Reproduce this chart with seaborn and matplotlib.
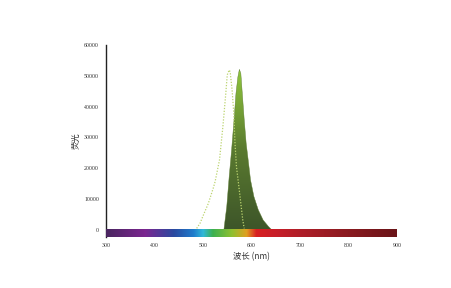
import numpy as np
import pandas as pd
import matplotlib
matplotlib.use("Agg")
import matplotlib.pyplot as plt
import seaborn as sns
from matplotlib.colors import LinearSegmentedColormap

# ---- data ----
ex_wl = [487, 494, 501, 511, 521, 525, 534, 541, 547, 550, 554, 556, 560, 563, 566, 569, 574, 578, 582, 585]
ex_val = [500, 2200, 4900, 8600, 13500, 15700, 22700, 33500, 44300, 50300, 51900, 51300, 45400, 38900, 28100, 20500, 14000, 8600, 3200, 500]

em_wl = [543, 549, 554, 559, 564, 568, 572, 575, 578, 581, 585, 589, 594, 598, 605, 614, 624, 635, 642]
em_val = [0, 7600, 17300, 26000, 35700, 44300, 49700, 52100, 50800, 44300, 35700, 28100, 21600, 16200, 10800, 6500, 3200, 1100, 0]

spec_pos = [300, 380, 440, 480, 500, 520, 560, 590, 610, 650, 700, 800, 900]
spec_col = ["#4a2560", "#7b2690", "#2a4aa0", "#1f7ccc", "#30b8d8", "#3cb050", "#90c030",
            "#e0a020", "#d82020", "#c81e28", "#b01e28", "#8a1a20", "#6a1418"]

x_ticks = [300, 400, 500, 600, 700, 800, 900]
y_ticks = [0, 10000, 20000, 30000, 40000, 50000, 60000]

sns.set_style("white")
plt.rcParams['font.family'] = ['Liberation Serif', 'Noto Sans CJK SC', 'DejaVu Sans']

fig = plt.figure(figsize=(4.52, 2.88), dpi=100)
ax = fig.add_axes([106/452, (288-237)/288, (397-106)/452, (237-45)/288])

ex_df = pd.DataFrame({"wl": ex_wl, "val": ex_val})
em_df = pd.DataFrame({"wl": em_wl, "val": em_val})

# emission: gradient filled
poly = ax.fill_between(em_df["wl"], 0, em_df["val"], color="none", lw=0)
grad_cmap = LinearSegmentedColormap.from_list("g", ["#3d5529", "#5a7a30", "#8fc63c"])
grad = np.linspace(0, 1, 256).reshape(-1, 1)
im = ax.imshow(grad, cmap=grad_cmap, aspect="auto", origin="lower",
               extent=[min(em_wl), max(em_wl), 0, max(em_val)], zorder=2)
path = poly.get_paths()[0]
im.set_clip_path(path, transform=ax.transData)
sns.lineplot(data=em_df, x="wl", y="val", ax=ax, color="#5a7a30", lw=0.3, zorder=2)

# excitation: dotted
sns.lineplot(data=ex_df, x="wl", y="val", ax=ax, color="#bcd470", lw=0.9,
             linestyle=(0, (1, 1.3)), zorder=3)

# spectrum bar
spec_cmap = LinearSegmentedColormap.from_list(
    "spec", [((p - 300) / 600, c) for p, c in zip(spec_pos, spec_col)])
ax.imshow(np.linspace(0, 1, 512).reshape(1, -1), cmap=spec_cmap, aspect="auto",
          extent=[300, 900, -2300, 0], zorder=4)

ax.set_xlim(300, 900)
ax.set_ylim(-2300, 60000)
ax.set_xticks(x_ticks)
ax.set_xticklabels([str(t) for t in x_ticks])
ax.set_yticks(y_ticks)
ax.set_yticklabels([str(t) for t in y_ticks])
ax.tick_params(axis="both", length=0, labelsize=4.2, colors="#333333")
ax.tick_params(axis="x", pad=4)
ax.tick_params(axis="y", pad=5)

for s in ["top", "right", "bottom"]:
    ax.spines[s].set_visible(False)
ax.spines["left"].set_color("#222222")
ax.spines["left"].set_linewidth(1.0)

ax.set_xlabel("波长 (nm)", fontsize=6, family=['Noto Sans CJK SC', 'DejaVu Sans'],
              labelpad=3, color="#333333")
ax.set_ylabel("荧光", fontsize=6, family=['Noto Sans CJK SC', 'DejaVu Sans'],
              color="#333333")
ax.yaxis.set_label_coords(-0.087, 0.5)

fig.savefig("out.png", dpi=100)
